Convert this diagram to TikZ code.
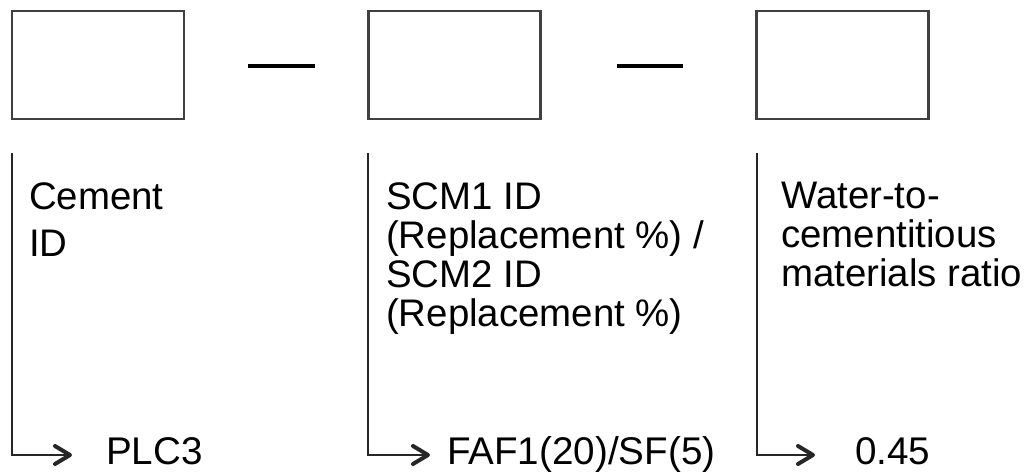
\documentclass[tikz,border=0pt]{standalone}
\usepackage{fontspec}
\setmainfont{Liberation Sans}
\usetikzlibrary{arrows.meta}

\tikzset{
  idbox/.style={draw=black!75, line width=2.2pt, minimum width=172pt, minimum height=108pt, inner sep=0pt},
  sepline/.style={line width=4pt},
  elbow/.style={line width=2.2pt, draw=black!85, -{Straight Barb[length=15pt,width=18pt,line width=4pt 0,round]}},
  desc/.style={anchor=north west, inner sep=0pt, align=left, font=\fontsize{38.4pt}{39pt}\selectfont},
  code/.style={anchor=base west, inner sep=0pt, font=\fontsize{38.6pt}{39pt}\selectfont}
}

\begin{document}
\begin{tikzpicture}[x=1pt,y=-1pt]
	\useasboundingbox (0,0) rectangle (1034,473);
	% the three empty boxes
	\node[idbox] (cem) at (98,65) {};
	\node[idbox] (scm) at (454.5,65) {};
	\node[idbox] (wcm) at (842.5,65) {};
	\draw[sepline] (248,66) -- (315,66);
	\draw[sepline] (617,66) -- (683,66);
	% descriptions
	\node[desc] (cemtxt) at (29,182) {Cement\\[8pt]ID};
	\node[desc] (scmtxt) at (386,182) {SCM1 ID\\(Replacement \%) /\\SCM2 ID\\(Replacement \%)};
	\node[desc] (wcmtxt) at (781,182) {Water-to-\\cementitious\\materials ratio};
	% example values
	\node[code] (cemval) at (106,464) {PLC3};
	\node[code] (scmval) at (447,464) {FAF1(20)/SF(5)};
	\node[code] (wcmval) at (855,464) {0.45};
	\coordinate (cemtop) at (12,153);
	\coordinate (scmtop) at (368,153);
	\coordinate (wcmtop) at (757,153);
	\coordinate (cemtip) at (72,455);
	\coordinate (scmtip) at (430,455);
	\coordinate (wcmtip) at (815,455);
	\draw[elbow] (cemtop) |- (cemtip);
	\draw[elbow] (scmtop) |- (scmtip);
	\draw[elbow] (wcmtop) |- (wcmtip);
\end{tikzpicture}
\end{document}
